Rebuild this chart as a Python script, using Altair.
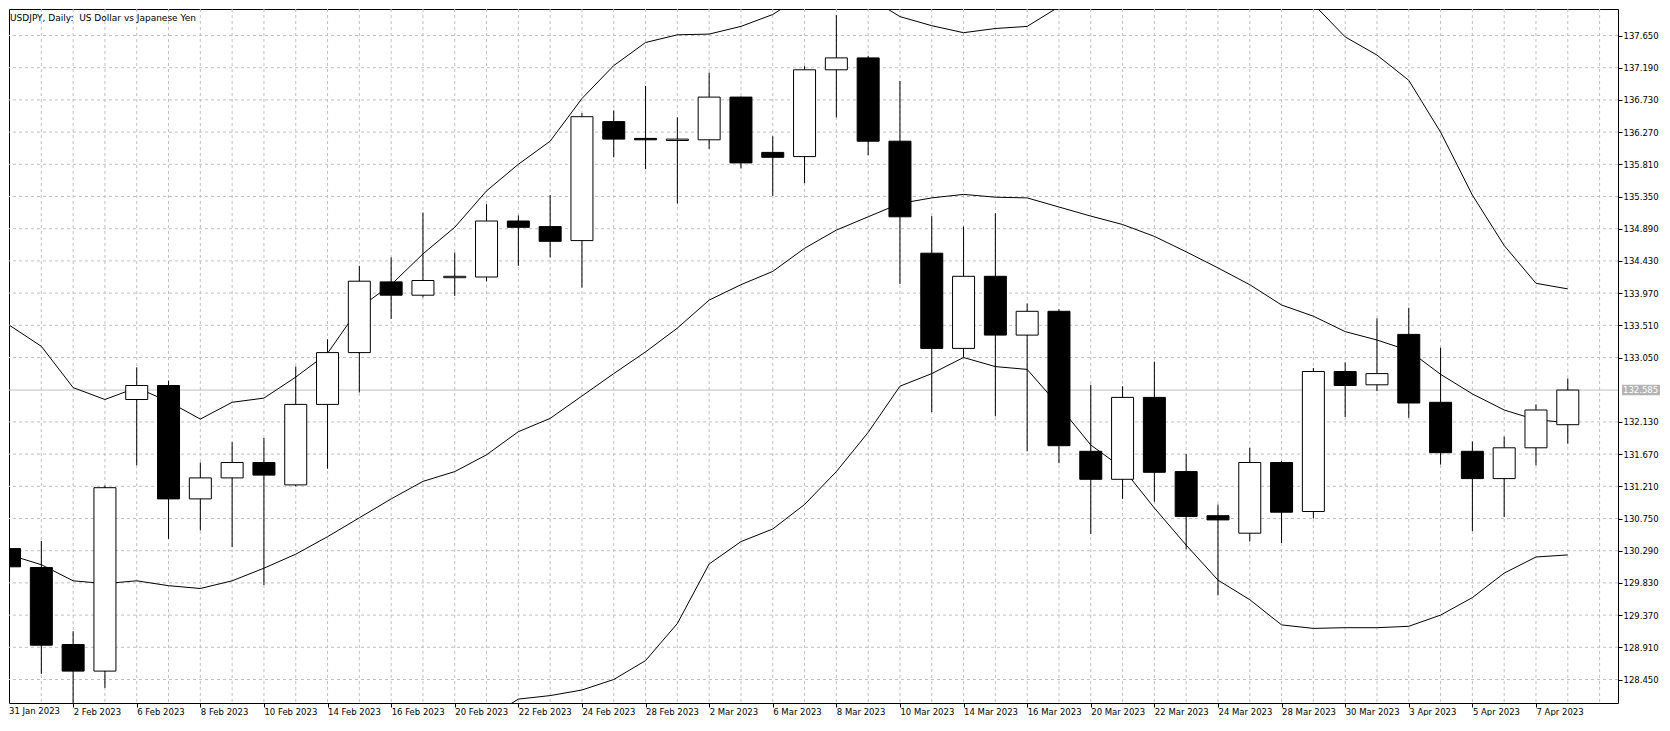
import altair as alt
import pandas as pd

# ---------------- data ----------------
dates = [
    "31 Jan 2023", "1 Feb 2023", "2 Feb 2023", "3 Feb 2023", "6 Feb 2023", "7 Feb 2023",
    "8 Feb 2023", "9 Feb 2023", "10 Feb 2023", "13 Feb 2023", "14 Feb 2023", "15 Feb 2023",
    "16 Feb 2023", "17 Feb 2023", "20 Feb 2023", "21 Feb 2023", "22 Feb 2023", "23 Feb 2023",
    "24 Feb 2023", "27 Feb 2023", "28 Feb 2023", "1 Mar 2023", "2 Mar 2023", "3 Mar 2023",
    "6 Mar 2023", "7 Mar 2023", "8 Mar 2023", "9 Mar 2023", "10 Mar 2023", "13 Mar 2023",
    "14 Mar 2023", "15 Mar 2023", "16 Mar 2023", "17 Mar 2023", "20 Mar 2023", "21 Mar 2023",
    "22 Mar 2023", "23 Mar 2023", "24 Mar 2023", "27 Mar 2023", "28 Mar 2023", "29 Mar 2023",
    "30 Mar 2023", "31 Mar 2023", "3 Apr 2023", "4 Apr 2023", "5 Apr 2023", "6 Apr 2023",
    "7 Apr 2023", "10 Apr 2023",
]

opens = [
    130.32, 130.05, 128.95, 128.57, 132.45, 132.65, 131.03, 131.33, 131.55, 131.23,
    132.38, 133.12, 134.13, 133.94, 134.19, 134.20, 135.00, 134.92, 134.72, 136.42,
    136.18, 136.15, 136.16, 136.77, 135.98, 135.92, 137.16, 137.33, 136.14, 134.54,
    133.18, 134.21, 133.37, 133.71, 131.71, 131.31, 132.48, 131.42, 130.79, 130.54,
    131.55, 130.85, 132.85, 132.66, 133.38, 132.41, 131.71, 131.32, 131.76, 132.09,
]
highs = [
    130.38, 130.43, 129.14, 131.22, 132.91, 132.72, 131.55, 131.84, 131.90, 132.92,
    133.31, 134.36, 134.48, 135.12, 134.55, 135.24, 135.08, 135.37, 136.54, 136.58,
    136.93, 136.48, 137.12, 136.78, 136.21, 137.21, 137.94, 137.36, 137.00, 135.07,
    134.92, 135.11, 133.82, 133.74, 132.66, 132.64, 132.99, 131.67, 130.95, 131.76,
    131.57, 132.90, 132.98, 133.61, 133.76, 133.19, 131.85, 131.92, 132.38, 132.75,
]
lows = [
    130.00, 128.53, 128.06, 128.33, 131.51, 130.46, 130.58, 130.34, 129.80, 131.21,
    131.46, 132.55, 133.60, 133.91, 133.93, 134.14, 134.36, 134.48, 134.05, 135.91,
    135.74, 135.25, 136.03, 135.75, 135.36, 135.54, 136.48, 135.94, 134.10, 132.27,
    133.05, 132.21, 131.71, 131.54, 130.53, 131.03, 130.99, 130.31, 129.65, 130.42,
    130.40, 130.75, 132.20, 132.57, 132.19, 131.52, 130.57, 130.77, 131.51, 131.82,
]
closes = [
    130.06, 128.94, 128.57, 131.19, 132.65, 131.03, 131.33, 131.55, 131.37, 132.38,
    133.12, 134.14, 133.94, 134.15, 134.21, 135.00, 134.91, 134.71, 136.49, 136.17,
    136.16, 136.17, 136.77, 135.83, 135.91, 137.16, 137.33, 136.14, 135.06, 133.18,
    134.21, 133.37, 133.71, 131.79, 131.31, 132.48, 131.41, 130.78, 130.73, 131.55,
    130.84, 132.85, 132.65, 132.82, 132.40, 131.69, 131.32, 131.76, 132.30, 132.585,
]

bb_upper = [
    133.51, 133.21, 132.62, 132.45, 132.62, 132.42, 132.17, 132.41, 132.47, 132.77,
    133.11, 133.76, 134.09, 134.53, 134.91, 135.43, 135.81, 136.14, 136.75, 137.22,
    137.55, 137.66, 137.67, 137.78, 137.95, 138.24, 138.36, 138.20, 137.92, 137.79,
    137.69, 137.75, 137.78, 138.06, 138.34, 138.43, 138.66, 138.75, 138.79, 138.59,
    138.37, 138.10, 137.63, 137.37, 137.01, 136.27, 135.37, 134.65, 134.11, 134.03,
]
bb_middle = [
    130.23, 130.09, 129.86, 129.82, 129.86, 129.79, 129.75, 129.86, 130.04, 130.24,
    130.49, 130.76, 131.03, 131.28, 131.42, 131.66, 131.99, 132.18, 132.50, 132.82,
    133.13, 133.47, 133.87, 134.09, 134.28, 134.61, 134.87, 135.06, 135.25, 135.33,
    135.38, 135.34, 135.33, 135.20, 135.07, 134.95, 134.78, 134.56, 134.33, 134.09,
    133.80, 133.64, 133.42, 133.30, 133.15, 132.81, 132.53, 132.30, 132.16, 132.12,
]
bb_lower = [
    126.95, 126.97, 127.10, 127.19, 127.10, 127.11, 127.33, 127.31, 127.61, 127.73,
    127.87, 127.76, 127.97, 128.03, 127.93, 127.89, 128.17, 128.22, 128.30, 128.45,
    128.72, 129.25, 130.10, 130.42, 130.60, 130.95, 131.42, 131.98, 132.64, 132.82,
    133.05, 132.92, 132.88, 132.36, 131.80, 131.47, 130.90, 130.37, 129.87, 129.59,
    129.23, 129.18, 129.19, 129.19, 129.21, 129.37, 129.62, 129.97, 130.20, 130.23,
]

price_ticks = [
    128.450, 128.910, 129.370, 129.830, 130.290, 130.750, 131.210, 131.670, 132.130,
    133.050, 133.510, 133.970, 134.430, 134.890, 135.350, 135.810, 136.270, 136.730,
    137.190, 137.650,
]
label_every = 2
last_price = 132.585
title_text = "USDJPY, Daily:\u00a0 US Dollar vs Japanese Yen"

# ---------------- layout / style ----------------
W, H = 1609, 694
X_DOMAIN = [0.140625, 50.421875]
Y_DOMAIN = [128.1143, 138.0286]
FONT = "DejaVu Sans"
GRID = "#c0c0c0"

xs = alt.Scale(domain=X_DOMAIN, nice=False, zero=False)
ys = alt.Scale(domain=Y_DOMAIN, nice=False, zero=False)

df = pd.DataFrame({
    "i": list(range(len(dates))),
    "date": dates,
    "open": opens, "high": highs, "low": lows, "close": closes,
    "upper": bb_upper, "middle": bb_middle, "lower": bb_lower,
})

label_expr = "[" + ",".join("'%s'" % d for d in dates) + "][datum.value]"
x_tick_values = [k for k in range(len(dates)) if k % label_every == 0 and k > 0]

x_axis = alt.Axis(
    values=x_tick_values, labelExpr=label_expr, tickSize=4, labelPadding=0,
    labelAlign="left", labelBaseline="top", labelFont=FONT, labelFontSize=8.5,
    labelColor="black", tickColor="black", domain=False, grid=False, title=None,
    labelOverlap=False, labelFlush=False,
)
y_axis = alt.Axis(
    orient="right", values=price_ticks, format=".3f", tickSize=4, labelPadding=1,
    labelFont=FONT, labelFontSize=8.5, labelColor="black", tickColor="black",
    domain=False, grid=False, title=None, labelOverlap=False, labelFlush=False,
)


def X(field):
    return alt.X(field, scale=xs, axis=x_axis)


def Y(field):
    return alt.Y(field, scale=ys, axis=y_axis)


vgrid = alt.Chart(pd.DataFrame({"g": list(range(1, len(dates) + 1))})).mark_rule(
    color=GRID, strokeDash=[3, 3], strokeWidth=1
).encode(x=X("g:Q"))

hgrid = alt.Chart(pd.DataFrame({"p": price_ticks})).mark_rule(
    color=GRID, strokeDash=[3, 3], strokeWidth=1
).encode(y=Y("p:Q"))

price_line = alt.Chart(pd.DataFrame({"p": [last_price]})).mark_rule(
    color=GRID, strokeWidth=1
).encode(y=Y("p:Q"))

bands = alt.Chart(df).transform_fold(
    ["upper", "middle", "lower"], as_=["band", "v"]
).mark_line(color="black", strokeWidth=1, clip=True).encode(
    x=X("i:Q"),
    y=Y("v:Q"),
    detail="band:N",
)

wicks = alt.Chart(df).mark_rule(color="black", strokeWidth=1, clip=True).encode(
    x=X("i:Q"),
    y=Y("low:Q"),
    y2="high:Q",
)

bodies = alt.Chart(df).mark_bar(size=22, stroke="black", strokeWidth=1, clip=True).encode(
    x=X("i:Q"),
    y=Y("open:Q"),
    y2="close:Q",
    fill=alt.condition("datum.close >= datum.open", alt.value("white"), alt.value("black")),
)

title = alt.Chart(pd.DataFrame({"t": [title_text]})).mark_text(
    align="left", baseline="alphabetic", font=FONT, fontSize=9, color="black"
).encode(x=alt.value(1), y=alt.value(11.5), text="t:N")

first_label = alt.Chart(pd.DataFrame({"t": [dates[0]]})).mark_text(
    align="left", baseline="top", font=FONT, fontSize=8.5, color="black"
).encode(x=alt.value(0), y=alt.value(H + 4), text="t:N")

price_box = alt.Chart(pd.DataFrame({"hi": [last_price + 0.076], "lo": [last_price - 0.076]})).mark_rect(
    color="#b4b4b4"
).encode(
    x=alt.value(W + 4), x2=alt.value(W + 42),
    y=Y("hi:Q"), y2="lo:Q",
)

price_text = alt.Chart(pd.DataFrame({"p": [last_price]})).mark_text(
    align="left", baseline="middle", font=FONT, fontSize=8.5, color="white"
).encode(
    x=alt.value(W + 5),
    y=Y("p:Q"),
    text=alt.Text("p:Q", format=".3f"),
)

chart = alt.layer(
    vgrid, hgrid, price_line, bands, wicks, bodies, title, first_label, price_box, price_text
).properties(
    width=W, height=H, padding=0, background="white"
).configure_view(stroke="black", strokeWidth=1)

chart.save("out.html", embed_options={"renderer": "svg", "actions": False})
